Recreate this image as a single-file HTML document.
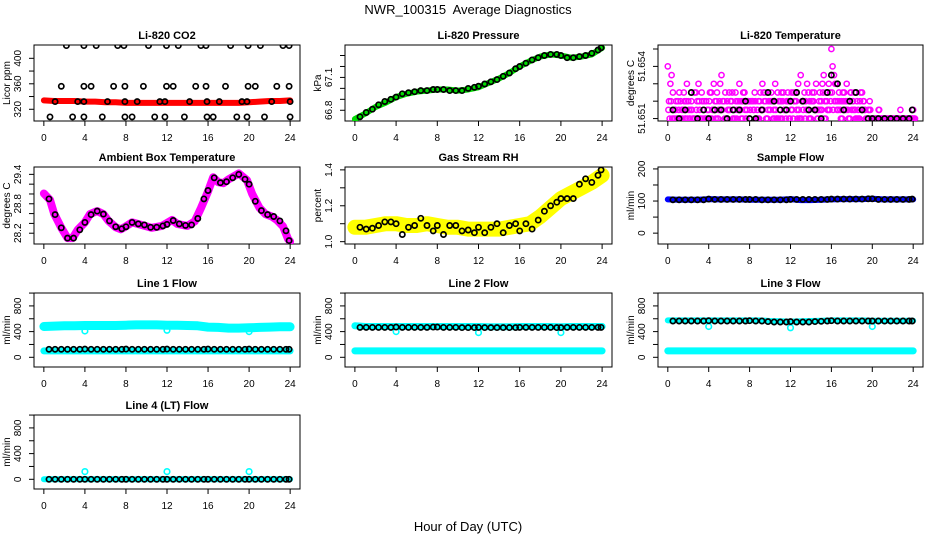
<!DOCTYPE html>
<html><head><meta charset="utf-8"><style>
html,body{margin:0;padding:0;background:#fff;}
svg{display:block;font-family:"Liberation Sans",Arial,sans-serif;}
</style></head><body>
<svg id="chart" width="936" height="540" viewBox="0 0 936 540">
<text x="468" y="14" text-anchor="middle" font-size="13" xml:space="preserve">NWR_100315  Average Diagnostics</text>
<text x="468" y="531" text-anchor="middle" font-size="13">Hour of Day (UTC)</text>
</svg>
<script>
// ---------- data ----------
const xTicks = [0,4,8,12,16,20,24];
const T = [0.5,1.1,1.7,2.3,2.9,3.5,4.0,4.6,5.2,5.8,6.4,7.0,7.6,8.0,8.6,9.2,9.8,10.4,11.0,11.6,12.0,12.6,13.2,13.8,14.4,15.0,15.6,16.0,16.6,17.2,17.8,18.4,19.0,19.6,20.0,20.6,21.2,21.8,22.4,23.0,23.6,23.9];
const H = [0,1,2,3,4,5,6,7,8,9,10,11,12,13,14,15,16,17,18,19,20,21,22,23,24];

// CO2
const co2Red = [334,333,333,333,332,332,331,331,330,330,330,330,330,330,330,330,330,330,330,330,331,332,333,333,334];
const co2BlackHours = [2.2,3.9,5.1,7.2,7.8,10.2,11.95,13.1,15.3,15.8,18.2,19.9,21.1,23.3,23.9, 1.7,3.9,4.6,6.8,7.9,9.7,11.95,12.6,14.8,15.8,17.7,19.9,20.6,22.7,23.9, 1.1,3.3,3.9,6.2,7.9,9.1,11.3,11.8,14.2,15.9,17.1,19.3,19.8,22.2,24.0, 0.6,2.8,3.9,5.7,7.9,8.6,10.8,11.8,13.7,15.9,16.5,18.8,19.8,21.5,24.0];
const co2BlackVals = [420,420,420,420,420,420,420,420,420,420,420,420,420,420,420, 356,356,356,356,356,356,356,356,356,356,356,356,356,356,356, 332,332,332,332,332,332,332,332,332,332,332,332,332,332,332, 308,308,308,308,308,308,308,308,308,308,308,308,308,308,308];
const co2Ticks = [320,340,360,380,400];
const co2Labels = [320,360,400];

// Pressure
const presGreen = [66.72,66.77,66.83,66.87,66.92,66.95,66.97,66.98,66.99,66.99,66.98,66.99,67.01,67.05,67.09,67.14,67.2,67.25,67.29,67.31,67.3,67.28,67.29,67.31,67.37];
const presBlack = [66.74,66.78,66.81,66.85,66.88,66.9,66.92,66.95,66.96,66.97,66.98,66.98,66.99,66.99,66.99,66.98,66.98,66.98,67.0,67.01,67.02,67.04,67.06,67.08,67.11,67.14,67.18,67.2,67.23,67.26,67.28,67.3,67.31,67.31,67.3,67.28,67.28,67.29,67.3,67.32,67.35,67.37];
const presTicks = [66.8,66.9,67.0,67.1,67.2,67.3];
const presLabels = [66.8,67.1];

// Li-820 temperature (0.25 h grid)
const liA = [51.654,51.653,51.6525,51.6515,51.652,51.652,51.6515,51.651,51.652,51.6515,51.651,51.6525,51.653,51.651,51.6515,51.652,
51.6515,51.6525,51.653,51.652,51.6515,51.6535,51.652,51.651,51.6525,51.652,51.6515,51.651,51.653,51.652,51.6525,51.6515,
51.651,51.652,51.6525,51.6515,51.652,51.653,51.6525,51.651,51.6515,51.652,51.653,51.6525,51.651,51.652,51.6515,51.6525,
51.652,51.651,51.6525,51.653,51.6535,51.6515,51.652,51.6525,51.651,51.652,51.653,51.6515,51.652,51.6535,51.6525,51.653,
51.655,51.6535,51.653,51.6525,51.652,51.6525,51.653,51.652,51.6515,51.6525,51.652,51.651,51.6525,51.6515,51.651,51.652,
51.651,51.651,51.651,51.651,51.651,51.651,51.651,51.651,51.651,51.651,51.651,51.6515,51.651,51.651,51.651,51.651,51.6515];
const liB = [51.652,51.6535,51.6515,51.651,51.6525,51.6515,51.652,51.653,51.651,51.6515,51.6525,51.652,51.6515,51.652,51.651,51.6515,
51.6525,51.6515,51.652,51.651,51.653,51.652,51.6525,51.6515,51.652,51.651,51.6525,51.652,51.6515,51.6525,51.651,51.652,
51.652,51.6515,51.651,51.652,51.6515,51.6525,51.651,51.652,51.6525,51.6515,51.651,51.652,51.6525,51.6515,51.652,51.651,
51.6525,51.652,51.6515,51.651,51.652,51.6525,51.653,51.652,51.6525,51.6515,51.651,51.6525,51.653,51.652,51.6515,51.6525,
51.654,51.653,51.652,51.6515,51.6525,51.652,51.6515,51.6525,51.652,51.651,51.6515,51.6525,51.652,51.651,51.6515,51.651,
51.651,51.651,51.6515,51.651,51.651,51.651,51.651,51.651,51.651,51.651,51.651,51.651,51.651,51.651,51.651,51.651,51.651];
const liC = [51.6515,51.652,51.651,51.652,51.6515,51.651,51.6525,51.652,51.6515,51.652,51.651,51.6515,51.652,51.6525,51.652,51.651,
51.652,51.651,51.6515,51.6525,51.652,51.6515,51.651,51.652,51.6515,51.6525,51.651,51.6515,51.652,51.651,51.6515,51.652,
51.6515,51.652,51.652,51.651,51.6525,51.6515,51.652,51.6515,51.652,51.651,51.6515,51.651,51.652,51.6525,51.651,51.652,
51.6515,51.6525,51.652,51.6515,51.651,51.652,51.6515,51.651,51.652,51.6525,51.6515,51.652,51.6515,51.651,51.652,51.6515,
51.6525,51.652,51.6515,51.652,51.651,51.6515,51.652,51.651,51.652,51.6515,51.651,51.652,51.6515,51.6515,51.651,51.6515,
51.651,51.651,51.651,51.651,51.651,51.651,51.651,51.651,51.651,51.651,51.651,51.651,51.651,51.651,51.651,51.651,51.651];
const liBlack = [51.6515,51.651,51.6515,51.6525,51.651,51.6515,51.651,51.6515,51.6515,51.651,51.6515,51.6515,51.652,51.651,51.651,51.6515,51.6525,51.652,51.6515,51.6515,51.652,51.6525,51.652,51.6515,51.6515,51.651,51.6525,51.6535,51.653,51.6515,51.652,51.6525,51.6515,51.651,51.651,51.651,51.651,51.651,51.651,51.651,51.651,51.6515];
const liTicks = [51.651,51.652,51.653,51.654,51.655];
const liLabels = [51.651,51.654];

// Ambient box temperature
const ambHours = [0,0.6,1,1.7,2.3,2.8,3.3,4,4.5,5.2,5.8,6.3,7,7.5,8,8.6,9.5,10.5,11.5,12.5,13,14,14.7,15.3,16,16.5,17,17.5,18,19,19.8,20.3,21,21.6,22.2,22.7,23.3,23.8,24];
const ambVals = [29.01,28.88,28.6,28.31,28.1,28.1,28.27,28.42,28.59,28.65,28.59,28.45,28.32,28.28,28.34,28.42,28.37,28.31,28.35,28.47,28.39,28.35,28.44,28.71,29.05,29.34,29.24,29.22,29.3,29.42,29.28,29.0,28.72,28.59,28.54,28.47,28.34,28.08,28.03];
const ambBlack = [28.9,28.58,28.31,28.1,28.1,28.27,28.42,28.58,28.65,28.59,28.45,28.33,28.29,28.33,28.42,28.39,28.37,28.32,28.32,28.35,28.38,28.46,28.39,28.36,28.37,28.5,28.9,29.07,29.33,29.23,29.25,29.33,29.4,29.3,29.2,28.85,28.66,28.58,28.54,28.45,28.25,28.05];
const ambTicks = [28.2,28.4,28.6,28.8,29.0,29.2,29.4];
const ambLabels = [28.2,28.8,29.4];

// Gas stream RH
const rhYellow = [1.08,1.08,1.09,1.1,1.1,1.09,1.09,1.1,1.09,1.08,1.08,1.07,1.07,1.07,1.07,1.08,1.09,1.1,1.14,1.19,1.24,1.27,1.3,1.33,1.37];
const rhBlack = [1.08,1.07,1.075,1.09,1.11,1.11,1.1,1.04,1.08,1.09,1.13,1.09,1.06,1.09,1.04,1.09,1.09,1.06,1.065,1.05,1.08,1.05,1.08,1.1,1.05,1.09,1.1,1.06,1.1,1.07,1.12,1.17,1.2,1.22,1.24,1.24,1.24,1.32,1.35,1.33,1.37,1.4];
const rhTicks = [1.0,1.1,1.2,1.3,1.4];
const rhLabels = [1.0,1.2,1.4];

// Sample flow
const sampleBlue = [105,104,104,104,106,105,105,105,104,104,104,104,106,103,103,104,105,106,106,106,107,105,105,105,105];
const sampleBlack = [104,104,104,104,104,104,106,105,105,105,105,105,105,105,105,104,104,104,104,104,105,105,105,105,105,105,105,106,106,106,106,106,106,107,107,105,105,105,105,105,105,106];
const sampleTicks = [0,50,100,150,200];
const sampleLabels = [0,100,200];

// Flows
const flowTicks = [0,200,400,600,800,1000];
const flowLabels = [0,400,800];
const dipHours = [4,12,20];
const line1High = [480,485,490,490,495,495,495,495,500,505,505,505,500,500,495,490,470,465,455,455,460,465,470,475,475];
const line1Low = [100,100,100,100,100,100,100,100,100,100,100,100,100,100,100,100,100,100,100,100,100,100,100,100,100];
const line1Dips = [410,420,400];
const line1Black = [125,125,125,125,125,125,128,125,125,125,125,125,125,128,125,125,125,125,125,125,128,125,125,125,125,125,125,128,125,125,125,125,125,125,128,125,125,125,125,125,125,125];
const line2High = [490,480,480,480,480,480,480,480,480,480,480,480,480,475,475,475,480,480,480,480,475,480,480,480,480];
const line2Low = [100,100,100,100,100,100,100,100,100,100,100,100,100,100,100,100,100,100,100,100,100,100,100,100,100];
const line2Dips = [400,385,385];
const line2Black = [465,465,465,465,465,465,470,465,465,465,465,465,470,470,465,465,465,462,462,462,465,462,462,462,462,462,462,465,465,465,465,465,465,462,462,465,465,465,465,465,465,465];
const line3High = [575,575,575,575,575,575,575,575,575,575,565,560,555,560,565,570,575,575,575,575,570,570,570,570,570];
const line3Low = [100,100,100,100,100,100,100,100,100,100,100,100,100,100,100,100,100,100,100,100,100,100,100,100,100];
const line3Dips = [480,460,480];
const line3Black = [565,565,565,565,565,565,570,565,565,565,565,565,565,570,565,565,555,550,550,550,555,550,550,550,555,560,565,570,565,565,565,565,565,565,565,565,565,565,565,565,565,565];
const line4Low = [0,0,0,0,0,0,0,0,0,0,0,0,0,0,0,0,0,0,0,0,0,0,0,0,0];
const line4Dips = [120,120,120];
const line4Black = [0,0,0,0,0,0,0,0,0,0,0,0,0,0,0,0,0,0,0,0,0,0,0,0,0,0,0,0,0,0,0,0,0,0,0,0,0,0,0,0,0,0];

// ---------- layout ----------
const NS = "http://www.w3.org/2000/svg";
const svg = document.getElementById('chart');
const cols = [{l:34,r:300},{l:345,r:612},{l:658,r:923}];
const rows = [{t:45,b:121},{t:167,b:244},{t:293,b:367},{t:415,b:489}];

function mk(tag, attrs, parent){
  const e = document.createElementNS(NS, tag);
  for (const k in attrs) e.setAttribute(k, attrs[k]);
  (parent||svg).appendChild(e);
  return e;
}

function panel(name, title, ci, ri, ymin, ymax, yTicks, yLabels, yTitle, fmt){
  const c = cols[ci], r = rows[ri];
  const g = mk('g', {});
  
  
  const xs = h => c.l + (h + 0.96) / 25.92 * (c.r - c.l);
  const ys = v => r.b - (v - ymin) / (ymax - ymin) * (r.b - r.t);
  const tt = mk('text', {x:(c.l+c.r)/2, y:r.t-6, 'text-anchor':'middle', 'font-size':11, 'font-weight':'bold'}, g);
  tt.textContent = title;
  
  
  const box = mk('rect', {x:c.l, y:r.t, width:c.r-c.l, height:r.b-r.t, fill:'none', stroke:'#000', 'stroke-width':1}, g);
  
  
  const xa = mk('g', {}, g);
  
  
  xTicks.forEach(t => {
    const x = xs(t);
    mk('line', {x1:x, x2:x, y1:r.b, y2:r.b+5, stroke:'#000'}, xa);
    const lb = mk('text', {x:x, y:r.b+20, 'text-anchor':'middle', 'font-size':10}, xa);
    lb.textContent = t;
    
    
  });
  const ya = mk('g', {}, g);
  
  
  yTicks.forEach(t => {
    const y = ys(t);
    mk('line', {x1:c.l, x2:c.l-5, y1:y, y2:y, stroke:'#000'}, ya);
  });
  yLabels.forEach(t => {
    const y = ys(t), x = c.l - 13;
    const lb = mk('text', {x:x, y:y, 'text-anchor':'middle', 'font-size':10, transform:`rotate(-90 ${x} ${y})`}, ya);
    lb.textContent = fmt ? fmt(t) : t;
    
    
  });
  const yx = c.l - 24, yy = (r.t + r.b) / 2;
  const yt = mk('text', {x:yx, y:yy, 'text-anchor':'middle', 'font-size':10, transform:`rotate(-90 ${yx} ${yy})`}, g);
  yt.textContent = yTitle;
  
  
  const clip = 'clip-' + name;
  const cp = mk('clipPath', {id:clip}, g);
  mk('rect', {x:c.l, y:r.t, width:c.r-c.l, height:r.b-r.t}, cp);
  const plot = mk('g', {'clip-path':`url(#${clip})`}, g);
  return {xs, ys, plot};
}

function band(p, name, hours, vals, color, width){
  const pts = hours.map((h,i) => p.xs(h).toFixed(1) + ',' + p.ys(vals[i]).toFixed(1)).join(' ');
  const pl = mk('polyline', {points:pts, fill:'none', stroke:color, 'stroke-width':width, 'stroke-linecap':'round', 'stroke-linejoin':'round'}, p.plot);
  
  
}
function dots(p, name, hours, vals, color, rad, sw){
  const g = mk('g', {}, p.plot);
  
  
  hours.forEach((h,i) => {
    const ci = mk('circle', {cx:p.xs(h).toFixed(1), cy:p.ys(vals[i]).toFixed(1), r:rad||2.6, fill:'none', stroke:color, 'stroke-width':sw||1.7}, g);
    
    
  });
}
const grid = liA.map((v,i) => i*0.25);

// CO2
let p = panel('co2', 'Li-820 CO2', 0, 0, 301.6, 420.9, co2Ticks, co2Labels, 'Licor ppm');
band(p, 'co2-red-series', H, co2Red, '#ff0000', 6);
dots(p, 'co2-black-series', co2BlackHours, co2BlackVals, '#000');

// Pressure
p = panel('pressure', 'Li-820 Pressure', 1, 0, 66.702, 67.396, presTicks, presLabels, 'kPa', v => v.toFixed(1));
band(p, 'pressure-green-series', H, presGreen, '#00dd00', 6);
dots(p, 'pressure-black-series', T, presBlack, '#000');

// Li temp
p = panel('li-temp', 'Li-820 Temperature', 2, 0, 51.65086, 51.65523, liTicks, liLabels, 'degrees C', v => v.toFixed(3));
dots(p, 'li-temp-magenta-a', grid, liA, '#ff00ff', 2.6, 1.5);
dots(p, 'li-temp-magenta-b', grid.map(g => g + 0.12), liB, '#ff00ff', 2.6, 1.5);
dots(p, 'li-temp-magenta-c', grid.map(g => g + 0.06), liC, '#ff00ff', 2.6, 1.5);
dots(p, 'li-temp-magenta-d', grid.map(g => g + 0.18), liC.slice().reverse().map((v,i) => liB[i] < v ? liB[i] : v), '#ff00ff', 2.6, 1.5);
dots(p, 'li-temp-black-series', T, liBlack, '#000');

// Ambient
p = panel('ambient', 'Ambient Box Temperature', 0, 1, 27.98, 29.55, ambTicks, ambLabels, 'degrees C', v => v.toFixed(1));
band(p, 'ambient-magenta-series', ambHours, ambVals, '#ff00ff', 8);
dots(p, 'ambient-black-series', T, ambBlack, '#000');

// RH
p = panel('rh', 'Gas Stream RH', 1, 1, 0.987, 1.416, rhTicks, rhLabels, 'percent', v => v.toFixed(1));
band(p, 'rh-yellow-series', H, rhYellow, '#ffff00', 15);
dots(p, 'rh-black-series', T, rhBlack, '#000');

// Sample flow
p = panel('sample-flow', 'Sample Flow', 2, 1, -33.8, 206, sampleTicks, sampleLabels, 'ml/min');
band(p, 'sample-blue-series', H, sampleBlue, '#0000ff', 6);
dots(p, 'sample-black-series', T, sampleBlack, '#000');

// Line 1
p = panel('line1', 'Line 1 Flow', 0, 2, -151, 1001, flowTicks, flowLabels, 'ml/min');
band(p, 'line1-cyan-high', H, line1High, '#00ffff', 9);
band(p, 'line1-cyan-low', H, line1Low, '#00ffff', 7);
dots(p, 'line1-cyan-dips', dipHours, line1Dips, '#00ffff', 2.8, 1.6);
dots(p, 'line1-black-series', T, line1Black, '#000');

// Line 2
p = panel('line2', 'Line 2 Flow', 1, 2, -151, 1001, flowTicks, flowLabels, 'ml/min');
band(p, 'line2-cyan-high', H, line2High, '#00ffff', 7);
band(p, 'line2-cyan-low', H, line2Low, '#00ffff', 7);
dots(p, 'line2-cyan-dips', dipHours, line2Dips, '#00ffff', 2.8, 1.6);
dots(p, 'line2-black-series', T, line2Black, '#000');

// Line 3
p = panel('line3', 'Line 3 Flow', 2, 2, -151, 1001, flowTicks, flowLabels, 'ml/min');
band(p, 'line3-cyan-high', H, line3High, '#00ffff', 6);
band(p, 'line3-cyan-low', H, line3Low, '#00ffff', 7);
dots(p, 'line3-cyan-dips', dipHours, line3Dips, '#00ffff', 2.8, 1.6);
dots(p, 'line3-black-series', T, line3Black, '#000');

// Line 4
p = panel('line4', 'Line 4 (LT) Flow', 0, 3, -151, 1001, flowTicks, flowLabels, 'ml/min');
band(p, 'line4-cyan-low', H, line4Low, '#00ffff', 6);
dots(p, 'line4-cyan-dips', dipHours, line4Dips, '#00ffff', 2.8, 1.6);
dots(p, 'line4-black-series', T, line4Black, '#000');
</script>
</body></html>
